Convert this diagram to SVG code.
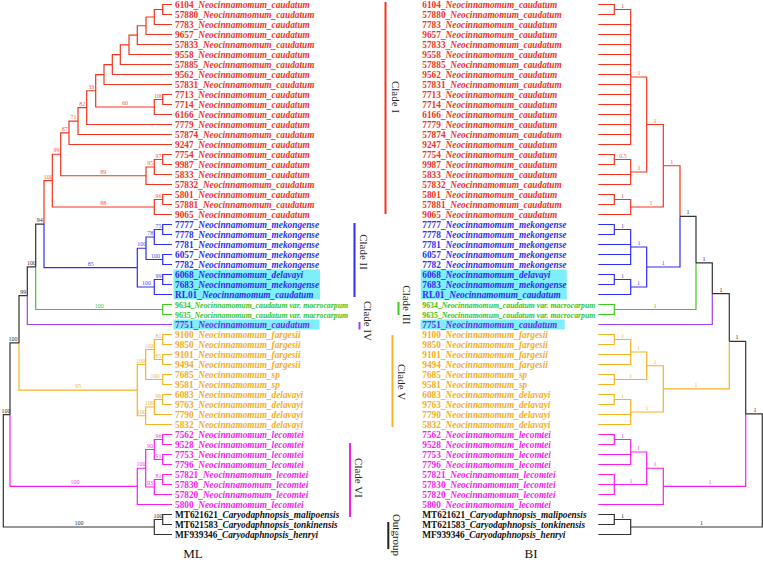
<svg xmlns="http://www.w3.org/2000/svg" width="763" height="562" viewBox="0 0 763 562">
<style>
.tl{font-family:"Liberation Serif","Times New Roman",serif;font-size:9.3px;font-weight:bold}
.i{font-style:italic}
.gt{font-size:8.3px}
.sp{font-family:"Liberation Serif","Times New Roman",serif;font-size:6px;text-anchor:middle}
.cl{font-family:"Liberation Serif","Times New Roman",serif;font-size:11px;fill:#222;text-anchor:middle}
.ttl{font-family:"Liberation Serif","Times New Roman",serif;font-size:13px;fill:#111;text-anchor:middle}
path{fill:none;stroke-width:1.2}
.sr{stroke:#f2341f}.sb{stroke:#2f2ff2}.sg{stroke:#3ccc1c}.spu{stroke:#a040f0}.sy{stroke:#f6b324}.sm{stroke:#fb1cf0}.sk{stroke:#333}
.fr{fill:#f2341f}.fb{fill:#2f2ff2}.fg{fill:#35c41a}.fp{fill:#6e2cf0}.fy{fill:#f3ae1c}.fm{fill:#fb1cf0}.fk{fill:#111}
.lr{fill:#f26050}.lb{fill:#5050f0}.lg{fill:#4cc830}.ly{fill:#f2b83a}.lm{fill:#f840ea}.lk{fill:#333}
.hl{fill:#7eeefb}
</style>

<g id="highlights">
<rect class="hl" x="173.5" y="269.5" width="146.5" height="30"/>
<rect class="hl" x="173.5" y="319.5" width="146" height="10"/>
<rect class="hl" x="420.7" y="269.5" width="146" height="30"/>
<rect class="hl" x="420.7" y="319.5" width="144" height="10"/>
</g>

<g id="ml-connectors">
<path class="sr" d="M172 4.5H162.7V14.5H172M162.7 9.5H154.3V24.5H172M154.3 17H146V34.5H172M146 25.75H137.3V44.5H172M137.3 35.13H129V54.5H172M129 44.81H120.3V64.5H172M120.3 54.66H112.3V74.5H172M112.3 64.58H104V84.5H172M172 94.5H162.7V104.5H172M162.7 99.5H154.3V114.5H172M104 74.54H95.7V107H154.3M95.7 90.77H86.7V124.5H172M86.7 107.64H78V134.5H172M78 121.07H69V144.5H172M172 154.5H162.7V164.5H172M162.7 159.5H154.3V174.5H172M154.3 167H146V184.5H172M69 132.78H60.7V175.75H146M172 194.5H162.7V204.5H172M162.7 199.5H154.3V214.5H172M60.7 154.27H52.3V207H154.3M52.3 180.6H44V224.1"/>
<path class="sb" d="M44 224.1V267.6H137.3M172 224.5H162.7V234.5H172M162.7 229.5H154.3V244.5H172M172 254.5H162.7V264.5H172M154.3 237H146V259.5H162.7M172 274.5H162.7V284.5H172M162.7 279.5H154.3V294.5H172M146 248.25H137.3V287H154.3"/>
<path class="sg" d="M172 304.5H162.7V314.5H172M35.7 266.8V309.5H162.7"/>
<path class="spu" d="M27.3 295.65V324.5H172"/>
<path class="sy" d="M19 342.9V390.1H137.3M172 334.5H162.7V344.5H172M172 354.5H162.7V364.5H172M162.7 339.5H154.3V359.5H162.7M172 374.5H162.7V384.5H172M154.3 349.5H145.7V379.5H162.7M172 394.5H162.7V404.5H172M162.7 399.5H154.3V414.5H172M154.3 407H145.7V424.5H172M145.7 364.5H137.3V415.75H145.7"/>
<path class="sm" d="M10 414.65V486.4H137.3M172 434.5H162.7V444.5H172M172 454.5H162.7V464.5H172M162.7 439.5H154.3V459.5H162.7M172 474.5H162.7V484.5H172M162.7 479.5H154.3V494.5H172M154.3 449.5H145.7V487H154.3M145.7 468.25H137.3V504.5H172"/>
<path class="sk" d="M44 224.1H35.7V266.8M35.7 266.8H27.3V295.65M27.3 295.65H19V342.9M19 342.9H10V414.65M10 414.65H3.3V527H154.3M172 514.5H162.7V524.5H172M162.7 519.5H154.3V534.5H172"/>
</g>

<g id="bi-connectors">
<path class="sr" d="M598.3 4.5H614.3V14.5H598.3M614.3 9.5H630.7V144.5H598.3M598.3 24.5H630.7M598.3 34.5H630.7M598.3 44.5H630.7M598.3 54.5H630.7M598.3 64.5H630.7M598.3 74.5H630.7M598.3 84.5H630.7M598.3 94.5H630.7M598.3 104.5H630.7M598.3 114.5H630.7M598.3 124.5H630.7M598.3 134.5H630.7M598.3 154.5H614.3V164.5H598.3M614.3 159.5H630.7V184.5H598.3M598.3 174.5H630.7M630.7 77H646.7V172H630.7M598.3 194.5H614.3V204.5H598.3M614.3 199.5H630.7V214.5H598.3M646.7 124.5H663.3V207H630.7M663.3 165.75H680V216.4"/>
<path class="sb" d="M680 216.4V267H646.7M598.3 224.5H614.3V234.5H598.3M614.3 229.5H630.7V264.5H598.3M598.3 244.5H630.7M598.3 254.5H630.7M598.3 274.5H614.3V284.5H598.3M614.3 279.5H630.7V294.5H598.3M630.7 247H646.7V287H630.7"/>
<path class="sg" d="M598.3 304.5H614.3V314.5H598.3M696 262.95V309.5H614.3"/>
<path class="spu" d="M712.3 293.7V324.5H598.3"/>
<path class="sy" d="M729.3 341.3V388.9H663.3M598.3 334.5H614.3V344.5H598.3M614.3 339.5H630.7V364.5H598.3M598.3 354.5H630.7M598.3 374.5H614.3V384.5H598.3M630.7 352H646.7V379.5H614.3M598.3 394.5H614.3V404.5H598.3M614.3 399.5H630.7V424.5H598.3M598.3 414.5H630.7M646.7 365.75H663.3V412H630.7"/>
<path class="sm" d="M745.7 413.85V486.4H663.3M598.3 434.5H614.3V444.5H598.3M614.3 439.5H630.7V464.5H598.3M598.3 454.5H630.7M598.3 474.5H614.3V494.5H598.3M598.3 484.5H614.3M630.7 452H646.7V484.5H614.3M646.7 468.25H663.3V504.5H598.3"/>
<path class="sk" d="M680 216.4H696V262.95M696 262.95H712.3V293.7M712.3 293.7H729.3V341.3M729.3 341.3H745.7V413.85M745.7 413.85H762.3V527H630.7M598.3 514.5H614.3V524.5H598.3M614.3 519.5H630.7V534.5H598.3"/>
</g>

<g id="ml-support">
<text class="sp lr" x="158.5" y="97.5">100</text>
<text class="sp lr" x="125" y="105">60</text>
<text class="sp lr" x="91.2" y="88.8">33</text>
<text class="sp lr" x="82.3" y="105.6">82</text>
<text class="sp lr" x="73.5" y="119">71</text>
<text class="sp lr" x="64.8" y="130.8">87</text>
<text class="sp lr" x="158.5" y="157.5">97</text>
<text class="sp lr" x="150.2" y="165">95</text>
<text class="sp lr" x="103.3" y="173.7">89</text>
<text class="sp lr" x="56.5" y="152.3">99</text>
<text class="sp lr" x="158.5" y="197.5">96</text>
<text class="sp lr" x="103.3" y="205">88</text>
<text class="sp lr" x="48.2" y="178.6">100</text>
<text class="sp lk" x="39.8" y="222.1">94</text>
<text class="sp lb" x="158.5" y="227.5">75</text>
<text class="sp lb" x="150.2" y="235">78</text>
<text class="sp lb" x="155.5" y="257.5">100</text>
<text class="sp lb" x="141.7" y="246.3">100</text>
<text class="sp lb" x="158.5" y="277.5">99</text>
<text class="sp lb" x="146.5" y="285">100</text>
<text class="sp lb" x="90.7" y="265.6">85</text>
<text class="sp lg" x="99.2" y="307.5">100</text>
<text class="sp lk" x="31.5" y="264.8">100</text>
<text class="sp lk" x="23.2" y="293.6">99</text>
<text class="sp ly" x="158.5" y="337.5">81</text>
<text class="sp ly" x="158.5" y="357.5">85</text>
<text class="sp ly" x="149" y="347.5">100</text>
<text class="sp ly" x="155" y="377.5">100</text>
<text class="sp ly" x="140.8" y="362.5">100</text>
<text class="sp ly" x="158.5" y="397.5">96</text>
<text class="sp ly" x="149.5" y="405">100</text>
<text class="sp ly" x="141.5" y="413.7">100</text>
<text class="sp ly" x="78.2" y="388.1">95</text>
<text class="sp lk" x="13" y="340.9">100</text>
<text class="sp lm" x="158.5" y="437.5">96</text>
<text class="sp lm" x="158.5" y="457.5">91</text>
<text class="sp lm" x="150" y="447.5">90</text>
<text class="sp lm" x="158.5" y="477.5">81</text>
<text class="sp lm" x="150" y="485">93</text>
<text class="sp lm" x="141" y="466.2">100</text>
<text class="sp lm" x="75" y="484.4">100</text>
<text class="sp lk" x="6" y="412.6">100</text>
<text class="sp lk" x="158" y="517.5">100</text>
<text class="sp lk" x="79" y="525">100</text>
</g>

<g id="bi-support">
<text class="sp lr" x="622.5" y="7.5">1</text>
<text class="sp lr" x="639" y="75">1</text>
<text class="sp lr" x="623" y="157.5">0.5</text>
<text class="sp lr" x="639" y="170">1</text>
<text class="sp lr" x="655" y="122.5">1</text>
<text class="sp lr" x="622.5" y="197.5">1</text>
<text class="sp lr" x="651" y="205">1</text>
<text class="sp lr" x="671.7" y="163.7">1</text>
<text class="sp lk" x="688" y="214.4">1</text>
<text class="sp lb" x="622.5" y="227.5">1</text>
<text class="sp lb" x="639" y="245">1</text>
<text class="sp lb" x="622.5" y="277.5">1</text>
<text class="sp lb" x="638.5" y="285">1</text>
<text class="sp lb" x="663.3" y="265">1</text>
<text class="sp lg" x="655" y="307.5">1</text>
<text class="sp lk" x="704" y="260.9">1</text>
<text class="sp lk" x="721" y="291.7">1</text>
<text class="sp ly" x="622.5" y="337.5">1</text>
<text class="sp ly" x="638.5" y="350">1</text>
<text class="sp ly" x="630.5" y="377.5">1</text>
<text class="sp ly" x="655" y="363.7">1</text>
<text class="sp ly" x="622.5" y="397.5">1</text>
<text class="sp ly" x="647" y="410">1</text>
<text class="sp ly" x="696" y="386.9">1</text>
<text class="sp lk" x="737" y="339.3">1</text>
<text class="sp lm" x="622.5" y="437.5">1</text>
<text class="sp lm" x="638.5" y="450">1</text>
<text class="sp lm" x="631" y="482.5">1</text>
<text class="sp lm" x="655" y="466.2">1</text>
<text class="sp lm" x="710" y="484.4">1</text>
<text class="sp lk" x="755" y="411.8">1</text>
<text class="sp lk" x="622.5" y="517.5">1</text>
<text class="sp lk" x="701.5" y="525">1</text>
</g>

<g id="ml-tips">
<g id="ml-6104"><text class="tl fr" x="175" y="7.8">6104_<tspan class="i">Neocinnamomum_caudatum</tspan></text></g>
<g id="ml-57880"><text class="tl fr" x="175" y="17.8">57880_<tspan class="i">Neocinnamomum_caudatum</tspan></text></g>
<g id="ml-7783"><text class="tl fr" x="175" y="27.8">7783_<tspan class="i">Neocinnamomum_caudatum</tspan></text></g>
<g id="ml-9657"><text class="tl fr" x="175" y="37.8">9657_<tspan class="i">Neocinnamomum_caudatum</tspan></text></g>
<g id="ml-57833"><text class="tl fr" x="175" y="47.8">57833_<tspan class="i">Neocinnamomum_caudatum</tspan></text></g>
<g id="ml-9558"><text class="tl fr" x="175" y="57.8">9558_<tspan class="i">Neocinnamomum_caudatum</tspan></text></g>
<g id="ml-57885"><text class="tl fr" x="175" y="67.8">57885_<tspan class="i">Neocinnamomum_caudatum</tspan></text></g>
<g id="ml-9562"><text class="tl fr" x="175" y="77.8">9562_<tspan class="i">Neocinnamomum_caudatum</tspan></text></g>
<g id="ml-57831"><text class="tl fr" x="175" y="87.8">57831_<tspan class="i">Neocinnamomum_caudatum</tspan></text></g>
<g id="ml-7713"><text class="tl fr" x="175" y="97.8">7713_<tspan class="i">Neocinnamomum_caudatum</tspan></text></g>
<g id="ml-7714"><text class="tl fr" x="175" y="107.8">7714_<tspan class="i">Neocinnamomum_caudatum</tspan></text></g>
<g id="ml-6166"><text class="tl fr" x="175" y="117.8">6166_<tspan class="i">Neocinnamomum_caudatum</tspan></text></g>
<g id="ml-7779"><text class="tl fr" x="175" y="127.8">7779_<tspan class="i">Neocinnamomum_caudatum</tspan></text></g>
<g id="ml-57874"><text class="tl fr" x="175" y="137.8">57874_<tspan class="i">Neocinnamomum_caudatum</tspan></text></g>
<g id="ml-9247"><text class="tl fr" x="175" y="147.8">9247_<tspan class="i">Neocinnamomum_caudatum</tspan></text></g>
<g id="ml-7754"><text class="tl fr" x="175" y="157.8">7754_<tspan class="i">Neocinnamomum_caudatum</tspan></text></g>
<g id="ml-9987"><text class="tl fr" x="175" y="167.8">9987_<tspan class="i">Neocinnamomum_caudatum</tspan></text></g>
<g id="ml-5833"><text class="tl fr" x="175" y="177.8">5833_<tspan class="i">Neocinnamomum_caudatum</tspan></text></g>
<g id="ml-57832"><text class="tl fr" x="175" y="187.8">57832_<tspan class="i">Neocinnamomum_caudatum</tspan></text></g>
<g id="ml-5801"><text class="tl fr" x="175" y="197.8">5801_<tspan class="i">Neocinnamomum_caudatum</tspan></text></g>
<g id="ml-57881"><text class="tl fr" x="175" y="207.8">57881_<tspan class="i">Neocinnamomum_caudatum</tspan></text></g>
<g id="ml-9065"><text class="tl fr" x="175" y="217.8">9065_<tspan class="i">Neocinnamomum_caudatum</tspan></text></g>
<g id="ml-7777"><text class="tl fb" x="175" y="227.8">7777_<tspan class="i">Neocinnamomum_mekongense</tspan></text></g>
<g id="ml-7778"><text class="tl fb" x="175" y="237.8">7778_<tspan class="i">Neocinnamomum_mekongense</tspan></text></g>
<g id="ml-7781"><text class="tl fb" x="175" y="247.8">7781_<tspan class="i">Neocinnamomum_mekongense</tspan></text></g>
<g id="ml-6057"><text class="tl fb" x="175" y="257.8">6057_<tspan class="i">Neocinnamomum_mekongense</tspan></text></g>
<g id="ml-7782"><text class="tl fb" x="175" y="267.8">7782_<tspan class="i">Neocinnamomum_mekongense</tspan></text></g>
<g id="ml-6068"><text class="tl fb" x="175" y="277.8">6068_<tspan class="i">Neocinnamomum_delavayi</tspan></text></g>
<g id="ml-7683"><text class="tl fb" x="175" y="287.8">7683_<tspan class="i">Neocinnamomum_mekongense</tspan></text></g>
<g id="ml-RL01"><text class="tl fb" x="175" y="297.8">RL01_<tspan class="i">Neocinnamomum_caudatum</tspan></text></g>
<g id="ml-9634"><text class="tl fg gt" x="175" y="307.6" textLength="173" lengthAdjust="spacingAndGlyphs">9634_<tspan class="i">Neocinnamomum_caudatum var. macrocarpum</tspan></text></g>
<g id="ml-9635"><text class="tl fg gt" x="175" y="317.6" textLength="173" lengthAdjust="spacingAndGlyphs">9635_<tspan class="i">Neocinnamomum_caudatum var. macrocarpum</tspan></text></g>
<g id="ml-7751"><text class="tl fp" x="175" y="327.8">7751_<tspan class="i">Neocinnamomum_caudatum</tspan></text></g>
<g id="ml-9100"><text class="tl fy" x="175" y="337.8">9100_<tspan class="i">Neocinnamomum_fargesii</tspan></text></g>
<g id="ml-9850"><text class="tl fy" x="175" y="347.8">9850_<tspan class="i">Neocinnamomum_fargesii</tspan></text></g>
<g id="ml-9101"><text class="tl fy" x="175" y="357.8">9101_<tspan class="i">Neocinnamomum_fargesii</tspan></text></g>
<g id="ml-9494"><text class="tl fy" x="175" y="367.8">9494_<tspan class="i">Neocinnamomum_fargesii</tspan></text></g>
<g id="ml-7685"><text class="tl fy" x="175" y="377.8">7685_<tspan class="i">Neocinnamomum_sp</tspan></text></g>
<g id="ml-9581"><text class="tl fy" x="175" y="387.8">9581_<tspan class="i">Neocinnamomum_sp</tspan></text></g>
<g id="ml-6083"><text class="tl fy" x="175" y="397.8">6083_<tspan class="i">Neocinnamomum_delavayi</tspan></text></g>
<g id="ml-9763"><text class="tl fy" x="175" y="407.8">9763_<tspan class="i">Neocinnamomum_delavayi</tspan></text></g>
<g id="ml-7790"><text class="tl fy" x="175" y="417.8">7790_<tspan class="i">Neocinnamomum_delavayi</tspan></text></g>
<g id="ml-5832"><text class="tl fy" x="175" y="427.8">5832_<tspan class="i">Neocinnamomum_delavayi</tspan></text></g>
<g id="ml-7562"><text class="tl fm" x="175" y="437.8">7562_<tspan class="i">Neocinnamomum_lecomtei</tspan></text></g>
<g id="ml-9528"><text class="tl fm" x="175" y="447.8">9528_<tspan class="i">Neocinnamomum_lecomtei</tspan></text></g>
<g id="ml-7753"><text class="tl fm" x="175" y="457.8">7753_<tspan class="i">Neocinnamomum_lecomtei</tspan></text></g>
<g id="ml-7796"><text class="tl fm" x="175" y="467.8">7796_<tspan class="i">Neocinnamomum_lecomtei</tspan></text></g>
<g id="ml-57821"><text class="tl fm" x="175" y="477.8">57821_<tspan class="i">Neocinnamomum_lecomtei</tspan></text></g>
<g id="ml-57830"><text class="tl fm" x="175" y="487.8">57830_<tspan class="i">Neocinnamomum_lecomtei</tspan></text></g>
<g id="ml-57820"><text class="tl fm" x="175" y="497.8">57820_<tspan class="i">Neocinnamomum_lecomtei</tspan></text></g>
<g id="ml-5800"><text class="tl fm" x="175" y="507.8">5800_<tspan class="i">Neocinnamomum_lecomtei</tspan></text></g>
<g id="ml-MT621621"><text class="tl fk" x="175" y="517.8">MT621621_<tspan class="i">Caryodaphnopsis_malipoensis</tspan></text></g>
<g id="ml-MT621583"><text class="tl fk" x="175" y="527.8">MT621583_<tspan class="i">Caryodaphnopsis_tonkinensis</tspan></text></g>
<g id="ml-MF939346"><text class="tl fk" x="175" y="537.8">MF939346_<tspan class="i">Caryodaphnopsis_henryi</tspan></text></g>
</g>

<g id="bi-tips">
<g id="bi-6104"><text class="tl fr" x="422.3" y="7.8">6104_<tspan class="i">Neocinnamomum_caudatum</tspan></text></g>
<g id="bi-57880"><text class="tl fr" x="422.3" y="17.8">57880_<tspan class="i">Neocinnamomum_caudatum</tspan></text></g>
<g id="bi-7783"><text class="tl fr" x="422.3" y="27.8">7783_<tspan class="i">Neocinnamomum_caudatum</tspan></text></g>
<g id="bi-9657"><text class="tl fr" x="422.3" y="37.8">9657_<tspan class="i">Neocinnamomum_caudatum</tspan></text></g>
<g id="bi-57833"><text class="tl fr" x="422.3" y="47.8">57833_<tspan class="i">Neocinnamomum_caudatum</tspan></text></g>
<g id="bi-9558"><text class="tl fr" x="422.3" y="57.8">9558_<tspan class="i">Neocinnamomum_caudatum</tspan></text></g>
<g id="bi-57885"><text class="tl fr" x="422.3" y="67.8">57885_<tspan class="i">Neocinnamomum_caudatum</tspan></text></g>
<g id="bi-9562"><text class="tl fr" x="422.3" y="77.8">9562_<tspan class="i">Neocinnamomum_caudatum</tspan></text></g>
<g id="bi-57831"><text class="tl fr" x="422.3" y="87.8">57831_<tspan class="i">Neocinnamomum_caudatum</tspan></text></g>
<g id="bi-7713"><text class="tl fr" x="422.3" y="97.8">7713_<tspan class="i">Neocinnamomum_caudatum</tspan></text></g>
<g id="bi-7714"><text class="tl fr" x="422.3" y="107.8">7714_<tspan class="i">Neocinnamomum_caudatum</tspan></text></g>
<g id="bi-6166"><text class="tl fr" x="422.3" y="117.8">6166_<tspan class="i">Neocinnamomum_caudatum</tspan></text></g>
<g id="bi-7779"><text class="tl fr" x="422.3" y="127.8">7779_<tspan class="i">Neocinnamomum_caudatum</tspan></text></g>
<g id="bi-57874"><text class="tl fr" x="422.3" y="137.8">57874_<tspan class="i">Neocinnamomum_caudatum</tspan></text></g>
<g id="bi-9247"><text class="tl fr" x="422.3" y="147.8">9247_<tspan class="i">Neocinnamomum_caudatum</tspan></text></g>
<g id="bi-7754"><text class="tl fr" x="422.3" y="157.8">7754_<tspan class="i">Neocinnamomum_caudatum</tspan></text></g>
<g id="bi-9987"><text class="tl fr" x="422.3" y="167.8">9987_<tspan class="i">Neocinnamomum_caudatum</tspan></text></g>
<g id="bi-5833"><text class="tl fr" x="422.3" y="177.8">5833_<tspan class="i">Neocinnamomum_caudatum</tspan></text></g>
<g id="bi-57832"><text class="tl fr" x="422.3" y="187.8">57832_<tspan class="i">Neocinnamomum_caudatum</tspan></text></g>
<g id="bi-5801"><text class="tl fr" x="422.3" y="197.8">5801_<tspan class="i">Neocinnamomum_caudatum</tspan></text></g>
<g id="bi-57881"><text class="tl fr" x="422.3" y="207.8">57881_<tspan class="i">Neocinnamomum_caudatum</tspan></text></g>
<g id="bi-9065"><text class="tl fr" x="422.3" y="217.8">9065_<tspan class="i">Neocinnamomum_caudatum</tspan></text></g>
<g id="bi-7777"><text class="tl fb" x="422.3" y="227.8">7777_<tspan class="i">Neocinnamomum_mekongense</tspan></text></g>
<g id="bi-7778"><text class="tl fb" x="422.3" y="237.8">7778_<tspan class="i">Neocinnamomum_mekongense</tspan></text></g>
<g id="bi-7781"><text class="tl fb" x="422.3" y="247.8">7781_<tspan class="i">Neocinnamomum_mekongense</tspan></text></g>
<g id="bi-6057"><text class="tl fb" x="422.3" y="257.8">6057_<tspan class="i">Neocinnamomum_mekongense</tspan></text></g>
<g id="bi-7782"><text class="tl fb" x="422.3" y="267.8">7782_<tspan class="i">Neocinnamomum_mekongense</tspan></text></g>
<g id="bi-6068"><text class="tl fb" x="422.3" y="277.8">6068_<tspan class="i">Neocinnamomum_delavayi</tspan></text></g>
<g id="bi-7683"><text class="tl fb" x="422.3" y="287.8">7683_<tspan class="i">Neocinnamomum_mekongense</tspan></text></g>
<g id="bi-RL01"><text class="tl fb" x="422.3" y="297.8">RL01_<tspan class="i">Neocinnamomum_caudatum</tspan></text></g>
<g id="bi-9634"><text class="tl fg gt" x="422.3" y="307.6" textLength="173" lengthAdjust="spacingAndGlyphs">9634_<tspan class="i">Neocinnamomum_caudatum var. macrocarpum</tspan></text></g>
<g id="bi-9635"><text class="tl fg gt" x="422.3" y="317.6" textLength="173" lengthAdjust="spacingAndGlyphs">9635_<tspan class="i">Neocinnamomum_caudatum var. macrocarpum</tspan></text></g>
<g id="bi-7751"><text class="tl fp" x="422.3" y="327.8">7751_<tspan class="i">Neocinnamomum_caudatum</tspan></text></g>
<g id="bi-9100"><text class="tl fy" x="422.3" y="337.8">9100_<tspan class="i">Neocinnamomum_fargesii</tspan></text></g>
<g id="bi-9850"><text class="tl fy" x="422.3" y="347.8">9850_<tspan class="i">Neocinnamomum_fargesii</tspan></text></g>
<g id="bi-9101"><text class="tl fy" x="422.3" y="357.8">9101_<tspan class="i">Neocinnamomum_fargesii</tspan></text></g>
<g id="bi-9494"><text class="tl fy" x="422.3" y="367.8">9494_<tspan class="i">Neocinnamomum_fargesii</tspan></text></g>
<g id="bi-7685"><text class="tl fy" x="422.3" y="377.8">7685_<tspan class="i">Neocinnamomum_sp</tspan></text></g>
<g id="bi-9581"><text class="tl fy" x="422.3" y="387.8">9581_<tspan class="i">Neocinnamomum_sp</tspan></text></g>
<g id="bi-6083"><text class="tl fy" x="422.3" y="397.8">6083_<tspan class="i">Neocinnamomum_delavayi</tspan></text></g>
<g id="bi-9763"><text class="tl fy" x="422.3" y="407.8">9763_<tspan class="i">Neocinnamomum_delavayi</tspan></text></g>
<g id="bi-7790"><text class="tl fy" x="422.3" y="417.8">7790_<tspan class="i">Neocinnamomum_delavayi</tspan></text></g>
<g id="bi-5832"><text class="tl fy" x="422.3" y="427.8">5832_<tspan class="i">Neocinnamomum_delavayi</tspan></text></g>
<g id="bi-7562"><text class="tl fm" x="422.3" y="437.8">7562_<tspan class="i">Neocinnamomum_lecomtei</tspan></text></g>
<g id="bi-9528"><text class="tl fm" x="422.3" y="447.8">9528_<tspan class="i">Neocinnamomum_lecomtei</tspan></text></g>
<g id="bi-7753"><text class="tl fm" x="422.3" y="457.8">7753_<tspan class="i">Neocinnamomum_lecomtei</tspan></text></g>
<g id="bi-7796"><text class="tl fm" x="422.3" y="467.8">7796_<tspan class="i">Neocinnamomum_lecomtei</tspan></text></g>
<g id="bi-57821"><text class="tl fm" x="422.3" y="477.8">57821_<tspan class="i">Neocinnamomum_lecomtei</tspan></text></g>
<g id="bi-57830"><text class="tl fm" x="422.3" y="487.8">57830_<tspan class="i">Neocinnamomum_lecomtei</tspan></text></g>
<g id="bi-57820"><text class="tl fm" x="422.3" y="497.8">57820_<tspan class="i">Neocinnamomum_lecomtei</tspan></text></g>
<g id="bi-5800"><text class="tl fm" x="422.3" y="507.8">5800_<tspan class="i">Neocinnamomum_lecomtei</tspan></text></g>
<g id="bi-MT621621"><text class="tl fk" x="422.3" y="517.8">MT621621_<tspan class="i">Caryodaphnopsis_malipoensis</tspan></text></g>
<g id="bi-MT621583"><text class="tl fk" x="422.3" y="527.8">MT621583_<tspan class="i">Caryodaphnopsis_tonkinensis</tspan></text></g>
<g id="bi-MF939346"><text class="tl fk" x="422.3" y="537.8">MF939346_<tspan class="i">Caryodaphnopsis_henryi</tspan></text></g>
</g>

<g id="clades">
<g id="clade-I"><rect x="384.5" y="2" width="2" height="212" fill="#f2341f"/><text class="cl" transform="translate(391.5 97) rotate(90)">Clade I</text></g>
<g id="clade-II"><rect x="353.5" y="223" width="2" height="74" fill="#2f2ff2"/><text class="cl" transform="translate(360 252) rotate(90)">Clade II</text></g>
<g id="clade-III"><rect x="397.5" y="302" width="2" height="13" fill="#3ccc1c"/><text class="cl" transform="translate(402.5 305) rotate(90)">Clade III</text></g>
<g id="clade-IV"><rect x="358.5" y="322" width="2" height="7.5" fill="#a040f0"/><text class="cl" transform="translate(364 321) rotate(90)">Clade IV</text></g>
<g id="clade-V"><rect x="391.5" y="335" width="2" height="92" fill="#f6b324"/><text class="cl" transform="translate(397.5 382) rotate(90)">Clade V</text></g>
<g id="clade-VI"><rect x="349" y="443" width="2" height="74" fill="#fb1cf0"/><text class="cl" transform="translate(355 478) rotate(90)">Clade VI</text></g>
<g id="outgroup"><rect x="387.3" y="522" width="2" height="27" fill="#222"/><text class="cl" transform="translate(393 535) rotate(90)">Outgroup</text></g>
</g>

<g id="titles">
<text class="ttl" x="193" y="558">ML</text>
<text class="ttl" x="531" y="558">BI</text>
</g>
</svg>
